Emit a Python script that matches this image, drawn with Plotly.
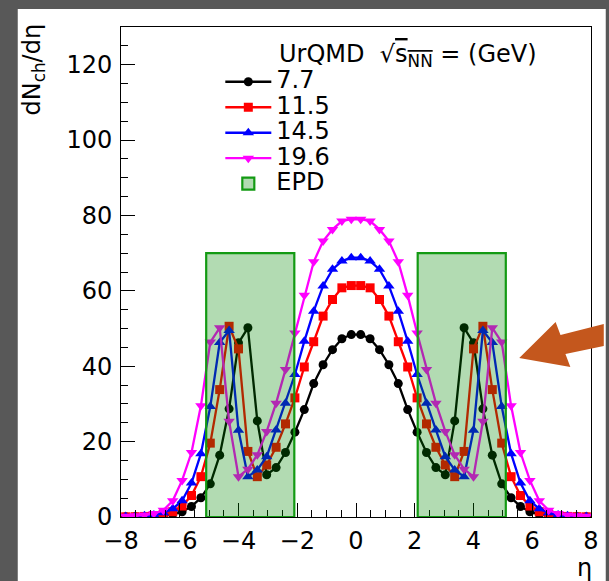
import plotly.graph_objects as go

# ---------------- data ----------------
# 50 bins of width 0.32 in eta from -8 to 8 (bin centres)
eta = [round(-7.84 + 0.32 * i, 2) for i in range(50)]

half_77 = [0.05, 0.08, 0.12, 0.2, 0.35, 0.7, 1.4, 2.8, 5.1, 8.8, 16.4, 28.7, 46.2,
           50.2, 25.5, 11.2, 13.1, 17.1, 22.5, 28.5, 35.4, 40.4, 44.4, 47.3, 48.4]
half_115 = [0.05, 0.08, 0.15, 0.3, 0.7, 1.4, 2.9, 5.7, 10.7, 19.6, 33.8, 50.6, 44.6,
            17.4, 10.7, 13.8, 18.5, 24.7, 31.6, 39.8, 46.5, 53.3, 57.7, 60.8, 61.4]
half_145 = [0.1, 0.15, 0.3, 0.5, 1.1, 2.2, 4.3, 9.0, 16.8, 29.3, 46.3, 49.5, 23.0,
            10.7, 12.5, 16.0, 23.1, 30.2, 37.8, 46.6, 54.6, 61.3, 65.7, 67.9, 68.8]
half_196 = [0.2, 0.3, 0.5, 0.9, 1.8, 4.3, 9.7, 17.1, 29.5, 46.4, 50.2, 25.4, 10.7,
            12.7, 16.5, 22.7, 30.2, 39.1, 48.8, 58.8, 67.7, 73.2, 76.3, 78.5, 79.0]

dn_77 = half_77 + half_77[::-1]
dn_115 = half_115 + half_115[::-1]
dn_145 = half_145 + half_145[::-1]
dn_196 = half_196 + half_196[::-1]

series_names = ["7.7", "11.5", "14.5", "19.6"]
series_vals = [dn_77, dn_115, dn_145, dn_196]
series_colors = ["#000000", "#ff0000", "#0000ff", "#ff00ff"]
series_symbols = ["circle", "square", "triangle-up", "triangle-down"]
series_sizes = [9, 9, 10, 10]

epd_lo = [-5.1, 2.1]
epd_hi = [-2.1, 5.1]
epd_top = 70

x_ticks = [-8, -6, -4, -2, 0, 2, 4, 6, 8]
y_ticks = [0, 20, 40, 60, 80, 100, 120]

# ---------------- layout geometry ----------------
W, H = 609, 581
L, R, T, B = 121, 599, 27, 517   # plot-area pixel box


def px(xp):
    return (xp - L) / (R - L)


def py(yp):
    return (B - yp) / (B - T)


FONT = "DejaVu Sans, Liberation Sans, Arial, sans-serif"
FS = 24

fig = go.Figure()

for name, vals, col, sym, sz in zip(series_names, series_vals, series_colors,
                                     series_symbols, series_sizes):
    fig.add_trace(go.Scatter(
        x=eta, y=vals, mode="lines+markers",
        name='<span style="font-size:%dpx">%s</span>' % (FS, name),
        line=dict(color=col, width=2.3),
        marker=dict(color=col, symbol=sym, size=sz, line=dict(width=0)),
    ))

shapes = []
# white page area inside the dark frame
shapes.append(dict(type="rect", xref="paper", yref="paper",
                   x0=px(16), x1=px(W + 5), y0=py(H + 5), y1=py(9),
                   fillcolor="white", line=dict(width=0), layer="below"))

for k, (a, b) in enumerate(zip(epd_lo, epd_hi)):
    shapes.append(dict(type="rect", xref="x", yref="y", x0=a, x1=b, y0=0, y1=epd_top,
                       fillcolor="rgba(0,135,0,0.30)",
                       line=dict(color="#139a13", width=2.2), layer="above",
                       showlegend=(k == 0),
                       name='<span style="font-size:%dpx">EPD</span>' % FS,
                       legendrank=1000))

# orange arrow (decoration)
arrow_pts = [(526, 358), (563, 322), (568, 335), (612, 324), (612, 346),
             (573, 354), (578, 367)]
path = "M " + " L ".join("%.4f,%.4f" % (px(a), py(b)) for a, b in arrow_pts) + " Z"
shapes.append(dict(type="path", xref="paper", yref="paper", path=path,
                   fillcolor="#c4571d", line=dict(width=0), layer="above"))

annotations = [
    dict(text="dN<sub>ch</sub>/dη", textangle=-90, xref="paper", yref="paper",
         x=px(31), y=py(70), xanchor="center", yanchor="middle", showarrow=False,
         font=dict(size=FS, color="black", family=FONT)),
    dict(text="η", xref="paper", yref="paper", x=px(592), y=py(568),
         xanchor="center", yanchor="middle", showarrow=False,
         font=dict(size=FS, color="black", family=FONT)),
    dict(text='UrQMD  √<span style="text-decoration:overline">s<sub>NN</sub></span> = (GeV)',
         xref="paper", yref="paper", x=px(280), y=py(55), xanchor="left",
         yanchor="middle", showarrow=False,
         font=dict(size=FS, color="black", family=FONT)),
]

fig.update_layout(
    width=W, height=H,
    margin=dict(l=L, r=W - R, t=T, b=H - B, pad=0),
    paper_bgcolor="#585858", plot_bgcolor="white",
    font=dict(family=FONT, color="black"),
    shapes=shapes, annotations=annotations,
    showlegend=True,
    legend=dict(x=px(222), y=py(64), xanchor="left", yanchor="top",
                bgcolor="rgba(0,0,0,0)", borderwidth=0, itemwidth=46,
                font=dict(size=17.3, family=FONT, color="black"),
                tracegroupgap=0),
    xaxis=dict(range=[-8, 8], tickvals=x_ticks, ticks="inside", ticklen=14,
               tickcolor="black", showline=True, linecolor="black", linewidth=1,
               mirror=True, showgrid=False, zeroline=False, ticklabelstandoff=2,
               tickfont=dict(size=FS, family=FONT, color="black"),
               minor=dict(dtick=0.5, ticks="inside", ticklen=7, tickcolor="black")),
    yaxis=dict(range=[0, 130], tickvals=y_ticks, ticks="inside", ticklen=14,
               tickcolor="black", showline=True, linecolor="black", linewidth=1,
               mirror=True, showgrid=False, zeroline=False, ticklabelstandoff=3,
               tickfont=dict(size=FS, family=FONT, color="black"),
               minor=dict(dtick=5, ticks="inside", ticklen=7, tickcolor="black")),
)

fig.write_html("out.html")
